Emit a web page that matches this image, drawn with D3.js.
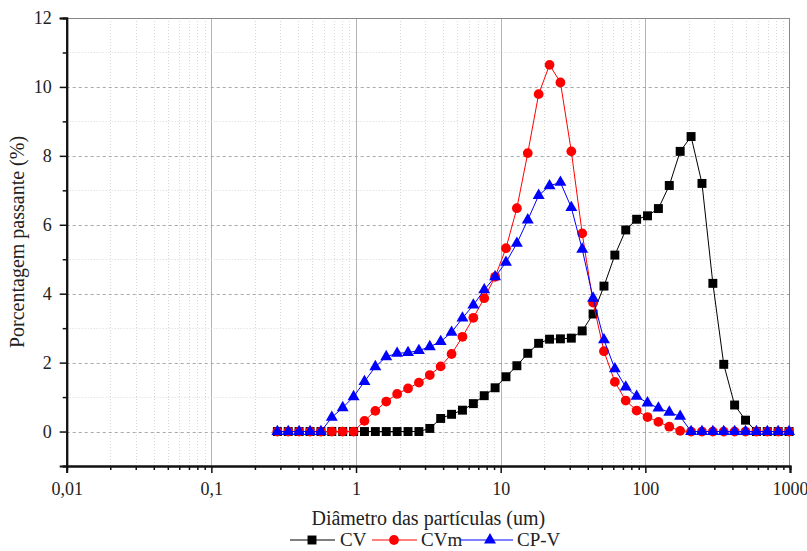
<!DOCTYPE html>
<html>
<head>
<meta charset="utf-8">
<script src="https://cdn.jsdelivr.net/npm/d3@7/dist/d3.min.js"></script>
<style>
  html, body { margin: 0; padding: 0; background: #fff; }
  svg { display: block; }
  text { font-family: "Liberation Serif", "Times New Roman", serif; fill: #222; }
</style>
</head>
<body>
<svg id="chart" width="807" height="551"></svg>
<script>
// Particle diameters (um), one per size class
const diameters = [0.286, 0.340, 0.404, 0.481, 0.572, 0.680, 0.809, 0.962, 1.144, 1.360,
  1.618, 1.924, 2.288, 2.721, 3.236, 3.848, 4.576, 5.442, 6.471, 7.696,
  9.152, 10.88, 12.94, 15.39, 18.30, 21.77, 25.88, 30.78, 36.61, 43.53,
  51.77, 61.56, 73.21, 87.06, 103.5, 123.1, 146.4, 174.1, 207.1, 246.3,
  292.9, 348.3, 414.2, 492.6, 585.8, 696.6, 828.4, 985.1];

// Passing percentage per size class
const cv = [0, 0, 0, 0, 0, 0, 0, 0, 0, 0,
  0, 0, 0, 0, 0.09, 0.38, 0.50, 0.62, 0.81, 1.04,
  1.27, 1.59, 1.91, 2.27, 2.56, 2.68, 2.69, 2.71, 2.92, 3.41,
  4.22, 5.12, 5.85, 6.16, 6.26, 6.47, 7.14, 8.13, 8.56, 7.20,
  4.30, 1.95, 0.77, 0.33, 0, 0, 0, 0];

const cvm = [0, 0, 0, 0, 0, 0, 0, 0, 0.31, 0.60,
  0.87, 1.09, 1.25, 1.42, 1.64, 1.89, 2.25, 2.75, 3.30, 3.87,
  4.49, 5.32, 6.48, 8.08, 9.79, 10.64, 10.13, 8.13, 5.75, 3.74,
  2.33, 1.44, 0.90, 0.61, 0.42, 0.28, 0.14, 0.02, 0, 0,
  0, 0, 0, 0, 0, 0, 0, 0];

const cpv = [0, 0, 0, 0, 0, 0.41, 0.69, 1.01, 1.45, 1.88,
  2.17, 2.27, 2.29, 2.35, 2.46, 2.61, 2.88, 3.29, 3.67, 4.11,
  4.49, 4.91, 5.46, 6.14, 6.85, 7.13, 7.23, 6.50, 5.29, 3.87,
  2.66, 1.82, 1.29, 1.02, 0.83, 0.68, 0.56, 0.44, 0, 0,
  0, 0, 0, 0, 0, 0, 0, 0];

const seriesNames = ["CV", "CVm", "CP-V"];
const xTickValues = [0.01, 0.1, 1, 10, 100, 1000];
const xTickLabels = ["0,01", "0,1", "1", "10", "100", "1000"];
const yTickValues = [0, 2, 4, 6, 8, 10, 12];

const xTitle = "Diâmetro das partículas (um)";
const yTitle = "Porcentagem passante (%)";

const serifFont = "'Liberation Serif', 'Times New Roman', serif";

const series = [
  { name: seriesNames[0], values: cv, color: "#000000", symbol: d3.symbolSquare, size: 80 },
  { name: seriesNames[1], values: cvm, color: "#ff0000", symbol: d3.symbolCircle, size: 75 },
  { name: seriesNames[2], values: cpv, color: "#0000ff", symbol: d3.symbolTriangle, size: 62 }
];

const svg = d3.select("#chart");
const plotL = 66.7, plotR = 790, plotT = 18, plotB = 466;

const x = d3.scaleLog().domain([0.01, 1000]).range([plotL, plotR]);
const y = d3.scaleLinear().domain([-1, 12]).range([plotB, plotT]);

// Minor positions: 2..9 within each decade, and odd values on y
const xMinor = [];
for (let dec = 0.01; dec < 1000; dec *= 10) {
  for (let k = 2; k <= 9; k++) xMinor.push(+(dec * k).toPrecision(3));
}
const yMinor = [-1, 1, 3, 5, 7, 9, 11];

const grid = svg.append("g");
// minor vertical grid (dotted)
grid.selectAll(".vminor").data(xMinor).join("line")
  .attr("x1", d => Math.round(x(d)) + 0.5).attr("x2", d => Math.round(x(d)) + 0.5)
  .attr("y1", plotT).attr("y2", plotB)
  .attr("stroke", "#d8d8d8").attr("stroke-width", 1).attr("stroke-dasharray", "1,2");
// major vertical grid (solid)
grid.selectAll(".vmajor").data(xTickValues.slice(1, -1)).join("line")
  .attr("x1", d => Math.round(x(d)) + 0.5).attr("x2", d => Math.round(x(d)) + 0.5)
  .attr("y1", plotT).attr("y2", plotB)
  .attr("stroke", "#b4b4b4").attr("stroke-width", 1);
// minor horizontal grid (dotted)
grid.selectAll(".hminor").data(yMinor.slice(1)).join("line")
  .attr("x1", plotL).attr("x2", plotR)
  .attr("y1", d => Math.round(y(d)) + 0.5).attr("y2", d => Math.round(y(d)) + 0.5)
  .attr("stroke", "#d8d8d8").attr("stroke-width", 1).attr("stroke-dasharray", "1,2");
// major horizontal grid (dashed)
grid.selectAll(".hmajor").data(yTickValues.slice(0, -1)).join("line")
  .attr("x1", plotL).attr("x2", plotR)
  .attr("y1", d => Math.round(y(d)) + 0.5).attr("y2", d => Math.round(y(d)) + 0.5)
  .attr("stroke", "#a8a8a8").attr("stroke-width", 1).attr("stroke-dasharray", "3,3");

// frame top and right
svg.append("line").attr("x1", plotL).attr("x2", plotR).attr("y1", plotT + 0.5).attr("y2", plotT + 0.5)
  .attr("stroke", "#888").attr("stroke-width", 1);
svg.append("line").attr("x1", plotR - 0.5).attr("x2", plotR - 0.5).attr("y1", plotT).attr("y2", plotB)
  .attr("stroke", "#888").attr("stroke-width", 1);

// series lines and markers
const line = d3.line().x((d, i) => x(diameters[i])).y(d => y(d));
series.forEach(s => {
  const g = svg.append("g");
  g.append("path").datum(s.values).attr("d", line)
    .attr("fill", "none").attr("stroke", s.color).attr("stroke-width", 1);
  g.selectAll("path.m").data(s.values).join("path").attr("class", "m")
    .attr("transform", (d, i) => `translate(${x(diameters[i])},${y(d)})`)
    .attr("d", d3.symbol().type(s.symbol).size(s.size))
    .attr("fill", s.color);
});

// axes
const xAxis = d3.axisBottom(x).tickValues(xTickValues)
  .tickFormat((d, i) => xTickLabels[i]).tickSizeOuter(0).tickSize(7).tickPadding(9);
const xAxisMinor = d3.axisBottom(x).tickValues(xMinor).tickFormat("").tickSizeOuter(0).tickSize(4);
const yAxis = d3.axisLeft(y).tickValues(yTickValues).tickSizeOuter(0).tickSize(7).tickPadding(8);
const yAxisMinor = d3.axisLeft(y).tickValues(yMinor).tickFormat("").tickSizeOuter(0).tickSize(4);

function styleAxis(g) {
  g.attr("font-family", serifFont);
  g.select(".domain").attr("stroke", "#111").attr("stroke-width", 2);
  g.selectAll(".tick line").attr("stroke", "#111").attr("stroke-width", 1.5);
  g.selectAll(".tick text").style("font-family", serifFont).style("font-size", "18px")
    .attr("fill", "#333");
}

svg.append("g").attr("transform", `translate(0,${plotB})`).call(xAxisMinor).call(styleAxis);
svg.append("g").attr("transform", `translate(0,${plotB})`).call(xAxis).call(styleAxis);
svg.append("g").attr("transform", `translate(${plotL},0)`).call(yAxisMinor).call(styleAxis);
svg.append("g").attr("transform", `translate(${plotL},0)`).call(yAxis).call(styleAxis);

// titles
svg.append("text").attr("x", (plotL + plotR) / 2).attr("y", 525)
  .attr("text-anchor", "middle").attr("font-size", 20).text(xTitle);
svg.append("text").attr("transform", `translate(24,${(plotT + plotB) / 2}) rotate(-90)`)
  .attr("text-anchor", "middle").attr("font-size", 20).text(yTitle);

// legend
const legendItems = [
  { lx: 290, rx: 335, mx: 312, tx: 340 },
  { lx: 372, rx: 417, mx: 394, tx: 421 },
  { lx: 460, rx: 513, mx: 490, tx: 517 }
];
const legendY = 540;
series.forEach((s, i) => {
  const it = legendItems[i];
  const g = svg.append("g");
  g.append("line").attr("x1", it.lx).attr("x2", it.rx).attr("y1", legendY).attr("y2", legendY)
    .attr("stroke", s.color).attr("stroke-width", 1);
  g.append("path").attr("transform", `translate(${it.mx},${legendY})`)
    .attr("d", d3.symbol().type(s.symbol).size(s.size)).attr("fill", s.color);
  g.append("text").attr("x", it.tx).attr("y", legendY + 6).attr("font-size", 19).text(s.name);
});
</script>
</body>
</html>
